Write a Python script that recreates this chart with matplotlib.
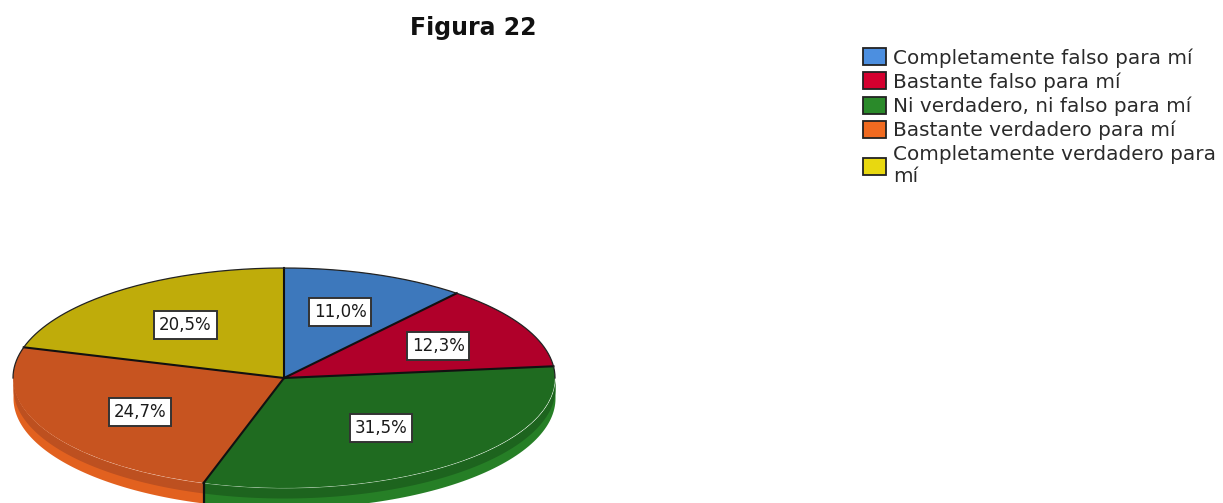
import numpy as np
import matplotlib
matplotlib.use('Agg')
import matplotlib.pyplot as plt
from matplotlib.patches import Patch

plt.rcParams['font.family'] = ['DejaVu Sans']

categories = ['Completamente falso para mí', 'Bastante falso para mí',
              'Ni verdadero, ni falso para mí', 'Bastante verdadero para mí',
              'Completamente verdadero para\nmí']
values = [11.0, 12.3, 31.5, 24.7, 20.5]
top_colors = ['#3d78bc', '#b0002a', '#1f6b20', '#c75420', '#bfac0a']
side_colors = ['#2f5f96', '#8a0020', '#267f26', '#e2611f', '#97880a']
side_dark = ['#2f5f96', '#8a0020', '#1d641e', '#bd5020', '#97880a']
legend_colors = ['#4c8fe0', '#d4002f', '#2a8a2a', '#f06a20', '#e8d810']
label_shift = [(1, -4), (11, -1), (-6, -1), (-1, 3), (-1, 0)]  # px nudges for the boxes

W, H = 1223, 503
fig = plt.figure(figsize=(W/100, H/100), dpi=100)
fig.patch.set_facecolor('white')

# pie ellipse is 542 x 220 px, centre at about (284, 378)
ax = fig.add_axes([13/W, (H-488)/H, 542/W, 220/H])

def pct_label(p):
    return ('%.1f%%' % p).replace('.', ',')

wedges, texts, autotexts = ax.pie(values, colors=top_colors, startangle=90, counterclock=False,
                                  radius=1, autopct=pct_label, pctdistance=0.6,
                                  wedgeprops=dict(linewidth=0, zorder=3),
                                  textprops=dict(fontsize=12, color='#1a1a1a', zorder=6))
ax.set_aspect('auto')
ax.set_xlim(-1, 1)
ax.set_ylim(-1, 1)

for t, (dx, dy) in zip(autotexts, label_shift):
    px, py = t.get_position()
    t.set_position((px + dx/271, py - dy/110))
    t.set_bbox(dict(facecolor='white', edgecolor='#333333', linewidth=1.4, pad=3.5))

# rim of the disc, only the part of each slice on the front side shows
depth = 20/110
edges = np.cumsum([0] + values) / 100 * 360
for i in range(len(values)):
    a0 = max(edges[i], 90)
    a1 = min(edges[i+1], 270)
    if a1 <= a0:
        continue
    th = np.radians(np.linspace(a0, a1, 80))
    x = np.sin(th)
    y = np.cos(th)
    ax.fill_between(x, y, y-depth, color=side_colors[i], linewidth=0, zorder=1, clip_on=False)
    ax.fill_between(x, y, y-depth*0.5, color=side_dark[i], linewidth=0, zorder=2, clip_on=False)
    if i < len(values)-1 and edges[i+1] < 270:
        ax.plot([x[-1], x[-1]], [y[-1], y[-1]-depth], color='#111111', lw=1.6, zorder=3, clip_on=False)

# slice dividers, and the thin outline which only shows on the back half
for a in edges[:-1]:
    r = np.radians(a)
    ax.plot([0, np.sin(r)], [0, np.cos(r)], color='#111111', lw=1.5, zorder=4, clip_on=False)
th = np.radians(np.linspace(-90, 90, 200))
ax.plot(np.sin(th), np.cos(th), color='#222222', lw=0.9, zorder=4, clip_on=False)

fig.text(473/W, 1-28/H, 'Figura 22', ha='center', va='center', fontsize=17, fontweight='bold', color='#111111')

handles = [Patch(facecolor=c, edgecolor='#222222', linewidth=1.3) for c in legend_colors]
fig.legend(handles, categories, loc='upper left', bbox_to_anchor=(857/W, 1-42/H), frameon=False,
           fontsize=14.4, labelspacing=0.24, handlelength=1.17, handleheight=0.93, handletextpad=0.35,
           borderpad=0.3, borderaxespad=0, labelcolor='#2a2a2a')

fig.savefig('out.png', dpi=100)
